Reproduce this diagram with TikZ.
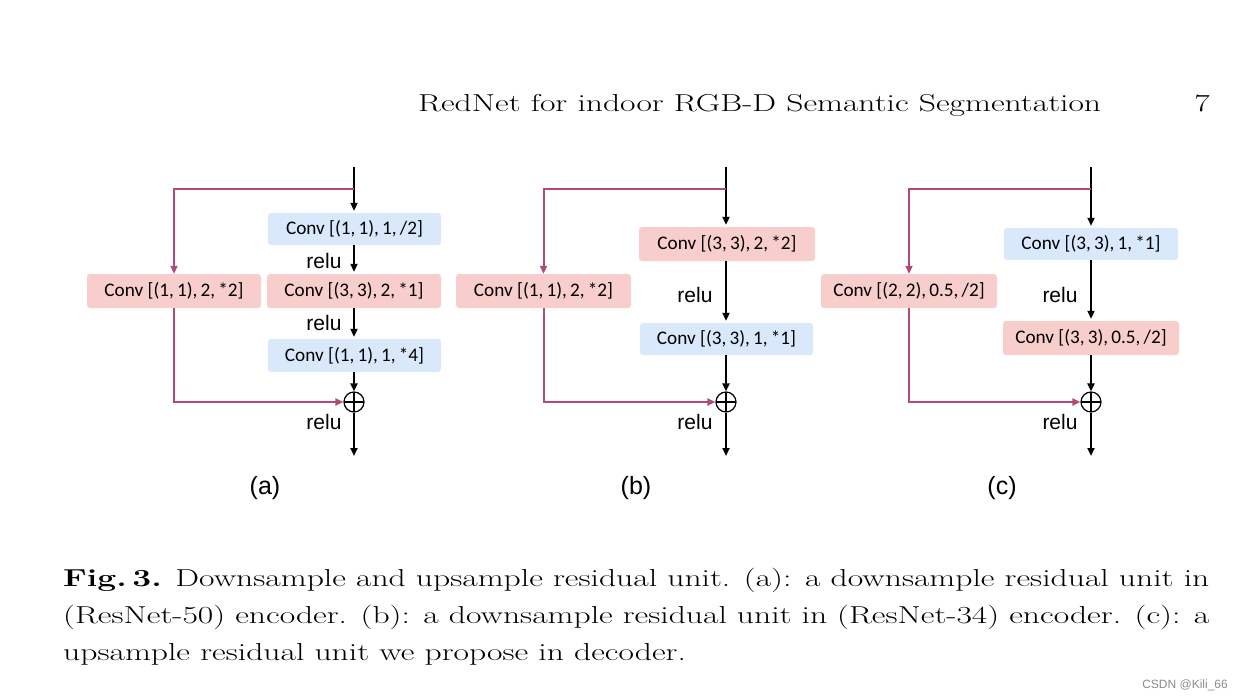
\documentclass[tikz,border=0pt]{standalone}
\usepackage{graphicx}
\usepackage{fontspec}
\newfontfamily\cfont{Carlito}
\newfontfamily\afont{Liberation Sans}
\usetikzlibrary{arrows.meta}
\definecolor{pinkbox}{HTML}{F8CECC}
\definecolor{bluebox}{HTML}{DAE8FC}
\definecolor{skipc}{HTML}{B04A78}
\newcommand{\wide}[1]{\scalebox{1.371}[1]{#1}}
\begin{document}
\begin{tikzpicture}[x=1pt,y=-1pt,
  convbox/.style={rounded corners=3pt, inner sep=0pt, font=\cfont\fontsize{19.2}{21}\selectfont},
  pkbox/.style={convbox, fill=pinkbox},
  blbox/.style={convbox, fill=bluebox},
  arr/.style={line width=2pt, -{Triangle[length=8pt,width=7pt]}, shorten >=2pt},
  skarr/.style={line width=2pt, skipc, -{Triangle[length=8pt,width=7pt]}},
  plusnode/.style={circle, draw, line width=1.2pt, minimum size=20pt, inner sep=0pt,
    path picture={\draw[line width=1.2pt] (path picture bounding box.north) -- (path picture bounding box.south)
      (path picture bounding box.west) -- (path picture bounding box.east);}},
  relutxt/.style={font=\afont\fontsize{21}{24}\selectfont, inner sep=0pt},
  labtxt/.style={font=\afont\fontsize{25}{28}\selectfont, inner sep=0pt},
  captxt/.style={font=\fontsize{24.5}{37}\selectfont, inner sep=0pt, anchor=base west}
]
\useasboundingbox (0,0) rectangle (1243,698);
\fill[white] (0,0) rectangle (1243,698);

% header
\node[captxt] (hd) at (418,112) {\wide{RedNet for indoor RGB-D Semantic Segmentation}};
\node[captxt, anchor=base east] (pg) at (1210,112) {\wide{7}};

% ---------- (a)
\coordinate (at) at (354,167);
\coordinate (ab) at (354,189);
\node[blbox, minimum width=173pt, minimum height=32pt] (a1) at (354.5,229) {Conv [(1,\,1),\,1,\,/2]};
\node[pkbox, minimum width=174pt, minimum height=34pt] (a2) at (354,291) {Conv [(3,\,3),\,2,\,*1]};
\node[pkbox, minimum width=174pt, minimum height=34pt] (al) at (174,291) {Conv [(1,\,1),\,2,\,*2]};
\node[blbox, minimum width=173pt, minimum height=33pt] (a3) at (354.5,355.5) {Conv [(1,\,1),\,1,\,*4]};
\node[plusnode] (ap) at (354,402) {};
\coordinate (ae) at (354,456);
\draw[arr] (at) -- (a1.north -| at);
\draw[arr] (a1.south -| at) -- (a2.north -| at);
\draw[arr] (a2.south -| at) -- (a3.north -| at);
\draw[arr, shorten >=0pt] (a3.south -| at) -- (ap.north);
\draw[arr, shorten >=0pt] (ap.south) -- (ae);
\draw[skarr] (ab) -| (al.north);
\draw[skarr] (al.south) |- (ap.west);
\node[relutxt] (ar1) at (324,261) {relu};
\node[relutxt] (ar2) at (324,323) {relu};
\node[relutxt] (ar3) at (324,422) {relu};
\node[labtxt] (la) at (265,488) {(a)};

% ---------- (b)
\coordinate (bt) at (726,167);
\coordinate (bb) at (726,189);
\node[pkbox, minimum width=176pt, minimum height=34pt] (b1) at (727,244) {Conv [(3,\,3),\,2,\,*2]};
\node[pkbox, minimum width=175pt, minimum height=34pt] (bl) at (543.5,291) {Conv [(1,\,1),\,2,\,*2]};
\node[blbox, minimum width=173pt, minimum height=32pt] (b2) at (726.5,339) {Conv [(3,\,3),\,1,\,*1]};
\node[plusnode] (bp) at (726,402) {};
\coordinate (be) at (726,456);
\draw[arr] (bt) -- (b1.north -| bt);
\draw[arr] (b1.south -| bt) -- (b2.north -| bt);
\draw[arr, shorten >=0pt] (b2.south -| bt) -- (bp.north);
\draw[arr, shorten >=0pt] (bp.south) -- (be);
\draw[skarr] (bb) -| (bl.north);
\draw[skarr] (bl.south) |- (bp.west);
\node[relutxt] (br1) at (695,295) {relu};
\node[relutxt] (br2) at (695,422) {relu};
\node[labtxt] (lb) at (636,488) {(b)};

% ---------- (c)
\coordinate (ct) at (1091,167);
\coordinate (cb) at (1091,189);
\node[blbox, minimum width=174pt, minimum height=32pt] (c1) at (1091,244) {Conv [(3,\,3),\,1,\,*1]};
\node[pkbox, minimum width=176pt, minimum height=34pt] (cl) at (909,291) {Conv [(2,\,2),\,0.5,\,/2]};
\node[pkbox, minimum width=176pt, minimum height=34pt] (c2) at (1091,338) {Conv [(3,\,3),\,0.5,\,/2]};
\node[plusnode] (cp) at (1091,402) {};
\coordinate (ce) at (1091,456);
\draw[arr] (ct) -- (c1.north -| ct);
\draw[arr] (c1.south -| ct) -- (c2.north -| ct);
\draw[arr, shorten >=0pt] (c2.south -| ct) -- (cp.north);
\draw[arr, shorten >=0pt] (cp.south) -- (ce);
\draw[skarr] (cb) -| (cl.north);
\draw[skarr] (cl.south) |- (cp.west);
\node[relutxt] (cr1) at (1060,295) {relu};
\node[relutxt] (cr2) at (1060,422) {relu};
\node[labtxt] (lc) at (1002,488) {(c)};

% caption
\node[captxt] (cap1) at (63,586) {\wide{\makebox[836pt][s]{\textbf{Fig.\,3.} Downsample and upsample residual unit. (a): a downsample residual unit in}}};
\node[captxt] (cap2) at (63,623) {\wide{\makebox[836pt][s]{(ResNet-50) encoder. (b): a downsample residual unit in (ResNet-34) encoder. (c): a}}};
\node[captxt] (cap3) at (63,660) {\wide{upsample residual unit we propose in decoder.}};

\node[font=\afont\fontsize{12}{14}\selectfont, text=black!45, anchor=base east, inner sep=0pt] (wm) at (1228,688) {CSDN @Kili\_66};
\end{tikzpicture}
\end{document}
